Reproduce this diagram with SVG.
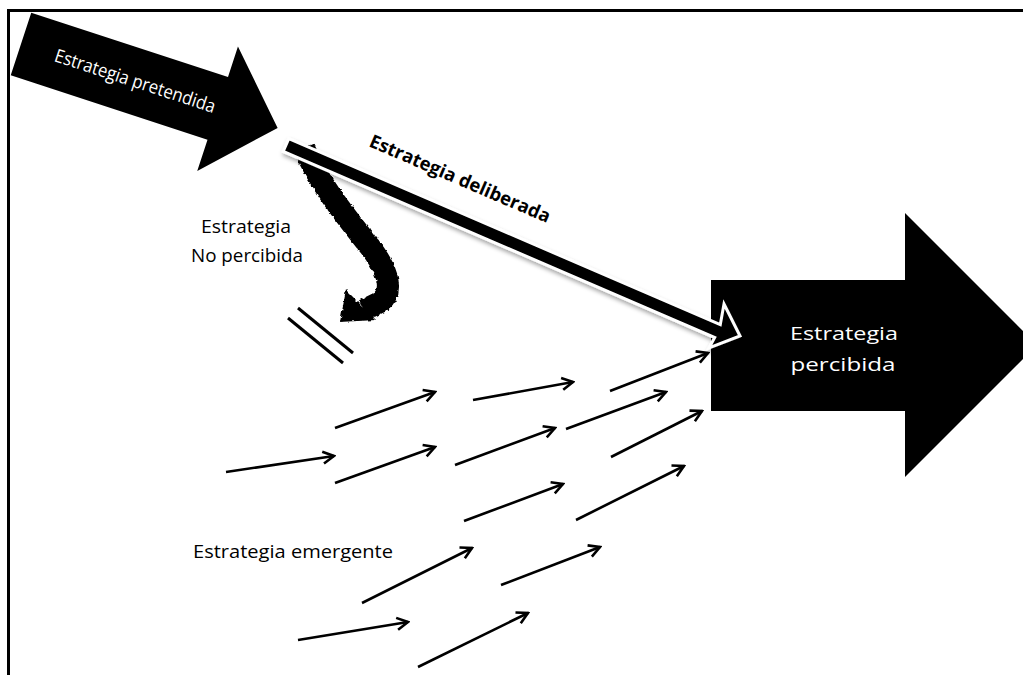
<svg xmlns="http://www.w3.org/2000/svg" width="1023" height="675" viewBox="0 0 1023 675">
  <defs>
    <style>
      .lbl { font-family: "Open Sans", "Noto Sans", "Liberation Sans", sans-serif; fill: #000; font-size: 18.5px; }
      .inv { fill: #fff; }
      .flow { stroke: #000; stroke-width: 2.6; fill: none; marker-end: url(#openHead); }
    </style>
    <marker id="openHead" markerUnits="userSpaceOnUse" viewBox="-14 -8 16 16" markerWidth="16" markerHeight="16" refX="0" refY="0" orient="auto">
      <path d="M-11,-6 L0,0 L-11,6" fill="none" stroke="#000" stroke-width="2.6" stroke-linejoin="miter"/>
    </marker>
    <filter id="rough" x="-20%" y="-20%" width="140%" height="140%">
      <feTurbulence type="fractalNoise" baseFrequency="0.25" numOctaves="2" seed="3" result="n"/>
      <feDisplacementMap in="SourceGraphic" in2="n" scale="3.5" xChannelSelector="R" yChannelSelector="G"/>
    </filter>
    <filter id="softShadow" x="-10%" y="-20%" width="120%" height="140%">
      <feDropShadow dx="1" dy="3" stdDeviation="2" flood-color="#000" flood-opacity="0.35"/>
    </filter>
  </defs>

  <rect width="1023" height="675" fill="#fff"/>
  <!-- frame -->
  <rect x="8.5" y="10.5" width="1040" height="700" fill="none" stroke="#000" stroke-width="3"/>

  <!-- intended strategy -->
  <g id="pretendida" transform="translate(21,44) rotate(18.1)">
    <polygon points="0,-33 207,-33 207,-65 270,0 207,66 207,33 0,33" fill="#000"/>
    <text class="lbl inv" x="120" y="6" text-anchor="middle" font-size="18" textLength="168" lengthAdjust="spacingAndGlyphs">Estrategia pretendida</text>
  </g>

  <!-- unrealized strategy -->
  <g id="no-percibida">
    <g filter="url(#rough)">
      <path d="M304,148 C320,185 345,215 366,242 C386,266 396,290 380,302 L364,310" fill="none" stroke="#000" stroke-width="22"/>
      <polygon points="340,322 346,290 376,320" fill="#000"/>
    </g>
    <text class="lbl" x="246" y="233" text-anchor="middle" textLength="90" lengthAdjust="spacingAndGlyphs">Estrategia</text>
    <text class="lbl" x="247" y="262" text-anchor="middle" textLength="112" lengthAdjust="spacingAndGlyphs">No percibida</text>
    <line x1="298" y1="308" x2="353" y2="353" stroke="#000" stroke-width="3"/>
    <line x1="288" y1="318" x2="343" y2="363" stroke="#000" stroke-width="3"/>
  </g>

  <!-- realized strategy -->
  <g id="percibida">
    <polygon points="711,280 905,280 905,213 1037,345 905,477 905,411 711,411" fill="#000"/>
    <text class="lbl inv" x="844" y="340" text-anchor="middle" font-size="29" textLength="108" lengthAdjust="spacingAndGlyphs">Estrategia</text>
    <text class="lbl inv" x="843" y="371" text-anchor="middle" font-size="29" textLength="105" lengthAdjust="spacingAndGlyphs">percibida</text>
  </g>

  <!-- deliberate strategy -->
  <g id="deliberada">
    <polygon points="288.8,138.6 720.3,324.7 724,304 740,336 709,348 714.7,337.5 283.2,151.4" fill="#000" stroke="#fff" stroke-width="3" stroke-linejoin="miter" filter="url(#softShadow)"/>
    <text class="lbl" x="368" y="146" transform="rotate(23.3 368 146)" font-weight="bold" font-size="17" textLength="195" lengthAdjust="spacingAndGlyphs">Estrategia deliberada</text>
  </g>

  <!-- emergent strategy -->
  <g id="emergente">
    <text class="lbl" x="193" y="558" font-size="19" textLength="200" lengthAdjust="spacingAndGlyphs">Estrategia emergente</text>
  </g>

  <g id="connectors">
    <line class="flow" x1="226" y1="472" x2="334" y2="456"/>
    <line class="flow" x1="335" y1="428" x2="435" y2="392"/>
    <line class="flow" x1="335" y1="483" x2="435" y2="447"/>
    <line class="flow" x1="473" y1="400" x2="573" y2="382"/>
    <line class="flow" x1="610" y1="391" x2="708" y2="353"/>
    <line class="flow" x1="455" y1="465" x2="555" y2="428"/>
    <line class="flow" x1="566" y1="429" x2="666" y2="392"/>
    <line class="flow" x1="611" y1="457" x2="702" y2="411"/>
    <line class="flow" x1="464" y1="521" x2="563" y2="484"/>
    <line class="flow" x1="576" y1="520" x2="684" y2="466"/>
    <line class="flow" x1="362" y1="603" x2="472" y2="548"/>
    <line class="flow" x1="501" y1="585" x2="600" y2="547"/>
    <line class="flow" x1="298" y1="640" x2="408" y2="622"/>
    <line class="flow" x1="418" y1="667" x2="528" y2="613"/>
  </g>
</svg>
